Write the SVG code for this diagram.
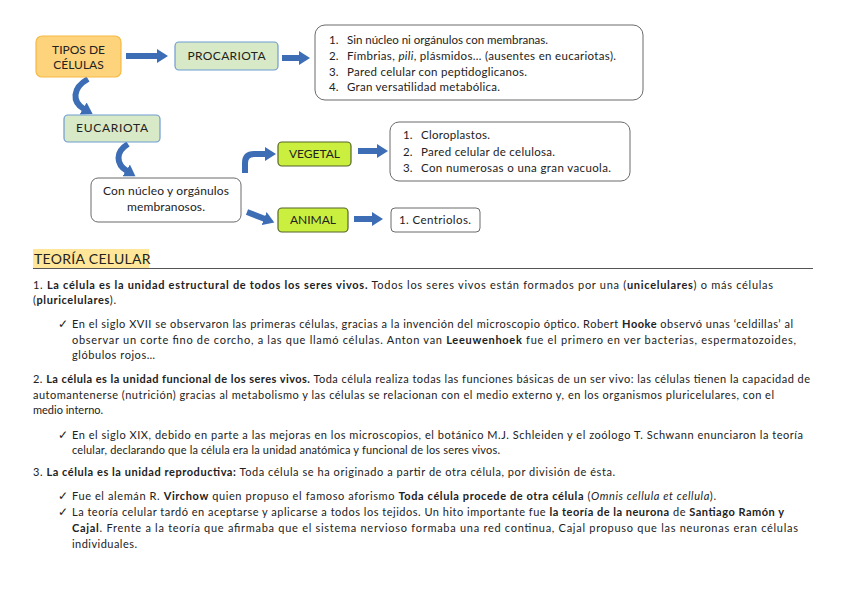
<svg xmlns="http://www.w3.org/2000/svg" width="848" height="599" viewBox="0 0 848 599">
<style>
text{font-family:Lato,"Open Sans","Liberation Sans",sans-serif;fill:#222;}
.lbl{font-size:12px;text-anchor:middle;}
.lst{font-size:11.5px;}
.p{font-size:11px;}
.b{font-weight:bold;}
.i{font-style:italic;}
.orange{fill:#fdd37c;stroke:#f5ba45;stroke-width:1.2;}
.green{fill:#d7e9c6;stroke:#6f9bd1;stroke-width:1.2;}
.lime{fill:#cbef3e;stroke:#55652a;stroke-width:1.2;}
.white{fill:#fff;stroke:#6b6b6b;stroke-width:1;}
.arr{fill:none;stroke:#3d6db5;stroke-width:6;}
.ck{font-size:12px;}
</style>
<defs>
<marker id="ah" markerUnits="userSpaceOnUse" markerWidth="12" markerHeight="14" refX="1" refY="7" orient="auto">
<path d="M0,0 L11,7 L0,14 Z" fill="#3d6db5"/>
</marker>
</defs>
<rect width="848" height="599" fill="#fff"/>

<g id="connectors">
<path class="arr" d="M126,56 H158" marker-end="url(#ah)"/>
<path class="arr" d="M282,58 H300" marker-end="url(#ah)"/>
<path class="arr" d="M88,79 C72,88 72,102 84,109" marker-end="url(#ah)"/>
<path class="arr" d="M128,144 C115,152 116,164 127,171" marker-end="url(#ah)"/>
<path class="arr" d="M245,173 V163 Q245,154 254,154 H266" marker-end="url(#ah)"/>
<path class="arr" d="M247,212 L265,219" marker-end="url(#ah)"/>
<path class="arr" d="M358,151 H378" marker-end="url(#ah)"/>
<path class="arr" d="M354,219 H373" marker-end="url(#ah)"/>
</g>

<g id="tipos">
<rect class="orange" x="36" y="36" width="85" height="41" rx="6"/>
<text class="lbl" x="78.5" y="54">TIPOS DE</text>
<text class="lbl" x="78.5" y="69">CÉLULAS</text>
</g>
<g id="procariota">
<rect class="green" x="175" y="42" width="103" height="28" rx="4"/>
<text class="lbl" x="226.5" y="60" textLength="78" lengthAdjust="spacing">PROCARIOTA</text>
</g>
<g id="lista-procariota">
<rect class="white" x="315" y="25" width="328" height="75" rx="10"/>
<text class="lst" x="329" y="44">1.</text><text class="lst" x="347" y="44" textLength="201" lengthAdjust="spacing">Sin núcleo ni orgánulos con membranas.</text>
<text class="lst" x="329" y="60">2.</text><text class="lst" x="347" y="60" textLength="269" lengthAdjust="spacing">Fímbrias, <tspan class="i">pili</tspan>, plásmidos… (ausentes en eucariotas).</text>
<text class="lst" x="329" y="76">3.</text><text class="lst" x="347" y="76" textLength="180" lengthAdjust="spacing">Pared celular con peptidoglicanos.</text>
<text class="lst" x="329" y="91">4.</text><text class="lst" x="347" y="91" textLength="153" lengthAdjust="spacing">Gran versatilidad metabólica.</text>
</g>
<g id="eucariota">
<rect class="green" x="64" y="115" width="96" height="27" rx="4"/>
<text class="lbl" x="112" y="132" textLength="72" lengthAdjust="spacing">EUCARIOTA</text>
</g>
<g id="nucleo">
<rect class="white" x="91" y="178" width="150" height="44" rx="7"/>
<text class="lbl" x="166" y="195" textLength="126" lengthAdjust="spacing">Con núcleo y orgánulos</text>
<text class="lbl" x="166" y="211" textLength="78" lengthAdjust="spacing">membranosos.</text>
</g>
<g id="vegetal">
<rect class="lime" x="278" y="142" width="73" height="24" rx="4"/>
<text class="lbl" x="314.5" y="158">VEGETAL</text>
</g>
<g id="lista-vegetal">
<rect class="white" x="390" y="122" width="240" height="59" rx="9"/>
<text class="lst" x="403" y="139">1.</text><text class="lst" x="421" y="139" textLength="69" lengthAdjust="spacing">Cloroplastos.</text>
<text class="lst" x="403" y="156">2.</text><text class="lst" x="421" y="156" textLength="134" lengthAdjust="spacing">Pared celular de celulosa.</text>
<text class="lst" x="403" y="172">3.</text><text class="lst" x="421" y="172" textLength="190" lengthAdjust="spacing">Con numerosas o una gran vacuola.</text>
</g>
<g id="animal">
<rect class="lime" x="278" y="208" width="70" height="24" rx="4"/>
<text class="lbl" x="313" y="224">ANIMAL</text>
</g>
<g id="lista-animal">
<rect class="white" x="391" y="208" width="89" height="24" rx="4"/>
<text class="lst" x="399" y="224" textLength="72" lengthAdjust="spacing">1. Centriolos.</text>
</g>

<g id="teoria">
<rect x="33" y="249" width="116" height="19" fill="#ffe699"/>
<text x="34" y="264" style="font-size:14px;letter-spacing:0.3px">TEORÍA CELULAR</text>
<line x1="33" y1="268.5" x2="813" y2="268.5" stroke="#555" stroke-width="1"/>

<text class="p" x="33" y="289" textLength="740" lengthAdjust="spacing">1. <tspan class="b">La célula es la unidad estructural de todos los seres vivos.</tspan> Todos los seres vivos están formados por una (<tspan class="b">unicelulares</tspan>) o más células</text>
<text class="p" x="33" y="304" textLength="83" lengthAdjust="spacing">(<tspan class="b">pluricelulares</tspan>).</text>

<text class="ck" x="58" y="328">✓</text>
<text class="p" x="72" y="328" textLength="721" lengthAdjust="spacing">En el siglo XVII se observaron las primeras células, gracias a la invención del microscopio óptico. Robert <tspan class="b">Hooke</tspan> observó unas ‘celdillas’ al</text>
<text class="p" x="72" y="344" textLength="724" lengthAdjust="spacing">observar un corte fino de corcho, a las que llamó células. Anton van <tspan class="b">Leeuwenhoek</tspan> fue el primero en ver bacterias, espermatozoides,</text>
<text class="p" x="72" y="359" textLength="83" lengthAdjust="spacing">glóbulos rojos…</text>

<text class="p" x="33" y="383" textLength="777" lengthAdjust="spacing">2. <tspan class="b">La célula es la unidad funcional de los seres vivos.</tspan> Toda célula realiza todas las funciones básicas de un ser vivo: las células tienen la capacidad de</text>
<text class="p" x="33" y="399" textLength="741" lengthAdjust="spacing">automantenerse (nutrición) gracias al metabolismo y las células se relacionan con el medio externo y, en los organismos pluricelulares, con el</text>
<text class="p" x="33" y="414">medio interno.</text>

<text class="ck" x="58" y="439">✓</text>
<text class="p" x="72" y="439" textLength="731" lengthAdjust="spacing">En el siglo XIX, debido en parte a las mejoras en los microscopios, el botánico M.J. Schleiden y el zoólogo T. Schwann enunciaron la teoría</text>
<text class="p" x="72" y="454" textLength="428" lengthAdjust="spacing">celular, declarando que la célula era la unidad anatómica y funcional de los seres vivos.</text>

<text class="p" x="33" y="476" textLength="582" lengthAdjust="spacing">3. <tspan class="b">La célula es la unidad reproductiva:</tspan> Toda célula se ha originado a partir de otra célula, por división de ésta.</text>

<text class="ck" x="58" y="500">✓</text>
<text class="p" x="72" y="500" textLength="644" lengthAdjust="spacing">Fue el alemán R. <tspan class="b">Virchow</tspan> quien propuso el famoso aforismo <tspan class="b">Toda célula procede de otra célula</tspan> (<tspan class="i">Omnis cellula et cellula</tspan>).</text>
<text class="ck" x="58" y="516">✓</text>
<text class="p" x="72" y="516" textLength="712" lengthAdjust="spacing">La teoría celular tardó en aceptarse y aplicarse a todos los tejidos. Un hito importante fue <tspan class="b">la teoría de la neurona</tspan> de <tspan class="b">Santiago Ramón y</tspan></text>
<text class="p" x="72" y="532" textLength="726" lengthAdjust="spacing"><tspan class="b">Cajal</tspan>. Frente a la teoría que afirmaba que el sistema nervioso formaba una red continua, Cajal propuso que las neuronas eran células</text>
<text class="p" x="72" y="548" textLength="65" lengthAdjust="spacing">individuales.</text>
</g>
</svg>
